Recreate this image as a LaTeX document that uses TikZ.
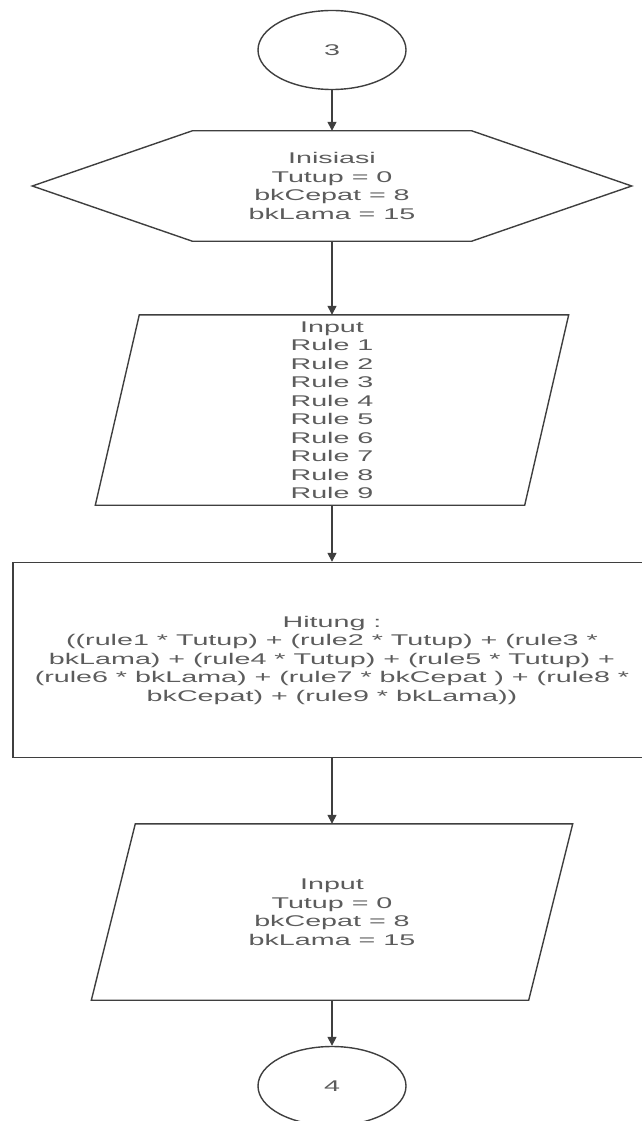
\documentclass[tikz,border=0pt]{standalone}
\usepackage{fontspec}
\setmainfont{Liberation Sans}[FakeStretch=1.85]
\usepackage{xcolor}
\usepackage{tikz}
\usetikzlibrary{shapes.geometric,arrows.meta}

\definecolor{linegray}{HTML}{3F3F3F}
\definecolor{textgray}{HTML}{5C5C5C}

\begin{document}
\begin{tikzpicture}[x=1pt, y=-1pt,
    every node/.style={text=textgray, font=\fontsize{15.5}{18.5}\selectfont},
    connector/.style={ellipse, draw=linegray, line width=1.4pt, minimum width=148pt, minimum height=79pt, inner sep=0pt},
    box/.style={rectangle, align=center, inner sep=0pt},
    outline/.style={draw=linegray, line width=1.4pt},
    process/.style={rectangle, draw=linegray, line width=1.4pt, align=center},
    flow/.style={draw=linegray, line width=1.4pt, -{Triangle[length=9pt,width=9pt]}}
]
    \useasboundingbox (0,0) rectangle (642,1121);

    % Nodes
    \node[connector] (start) at (332,50) {3};

    \node[box, minimum width=599pt, minimum height=110pt] (init) at (332,186) {Inisiasi\\Tutup = 0\\bkCepat = 8\\bkLama = 15};
    \draw[outline] (init.west) -- ([xshift=160pt]init.north west) -- ([xshift=-160pt]init.north east)
        -- (init.east) -- ([xshift=-160pt]init.south east) -- ([xshift=160pt]init.south west) -- cycle;

    \node[box, minimum width=473pt, minimum height=190pt] (rules) at (332,410) {Input\\Rule 1\\Rule 2\\Rule 3\\Rule 4\\Rule 5\\Rule 6\\Rule 7\\Rule 8\\Rule 9};
    \draw[outline] (rules.south west) -- ([xshift=44pt]rules.north west) -- (rules.north east)
        -- ([xshift=-44pt]rules.south east) -- cycle;

    \node[process, minimum width=647pt, minimum height=195pt] (hitung) at (336.5,660) {};
    \node[box] (rumus) at (332,660) {Hitung :\\((rule1 * Tutup) + (rule2 * Tutup) + (rule3 *\\bkLama) + (rule4 * Tutup) + (rule5 * Tutup) +\\(rule6 * bkLama) + (rule7 * bkCepat ) + (rule8 *\\bkCepat) + (rule9 * bkLama))};

    \node[box, minimum width=481pt, minimum height=176pt] (nilai) at (332,912) {Input\\Tutup = 0\\bkCepat = 8\\bkLama = 15};
    \draw[outline] (nilai.south west) -- ([xshift=44pt]nilai.north west) -- (nilai.north east)
        -- ([xshift=-44pt]nilai.south east) -- cycle;

    \node[connector] (stop) at (332,1086) {4};

    % Arrows
    \draw[flow] (start.south) -- (init.north);
    \draw[flow] (init.south) -- (rules.north);
    \draw[flow] (rules.south) -- (hitung.north -| rules.south);
    \draw[flow] (hitung.south -| nilai.north) -- (nilai.north);
    \draw[flow] (nilai.south) -- (stop.north);
\end{tikzpicture}
\end{document}
